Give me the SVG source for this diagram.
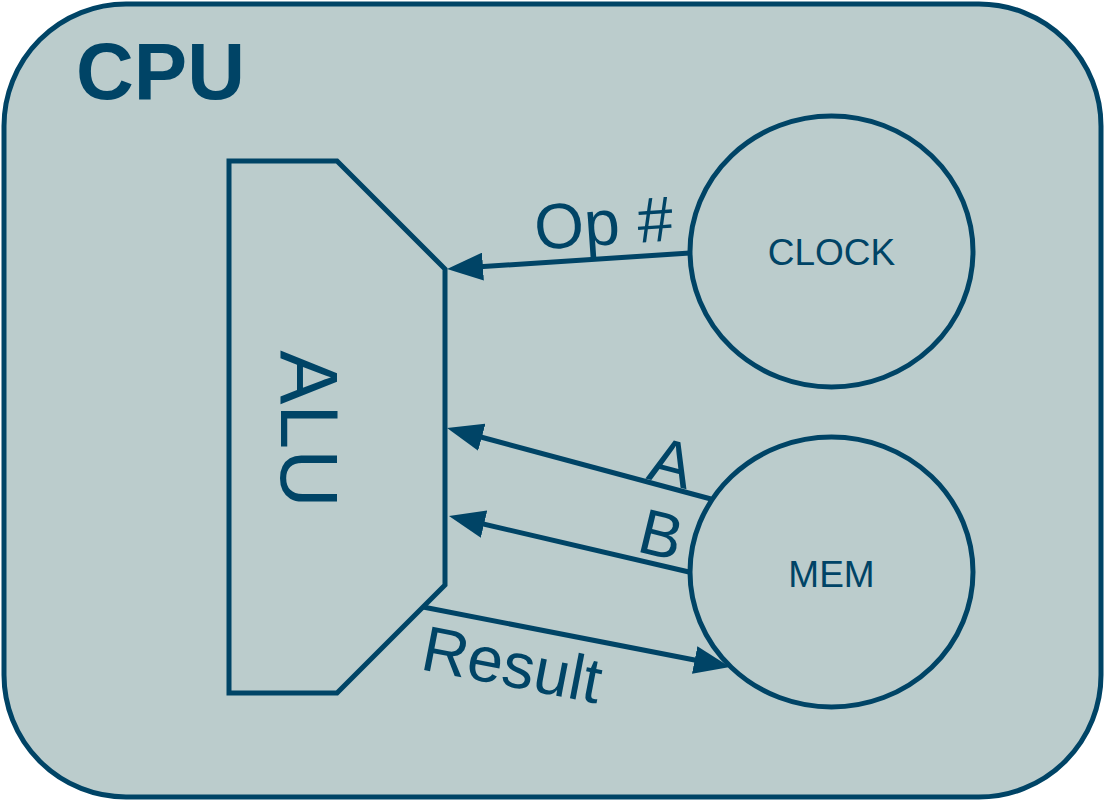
<svg xmlns="http://www.w3.org/2000/svg" width="1105" height="800" viewBox="0 0 1105 800">
  <defs>
    <style>
      .edge { stroke: #004466; stroke-width: 5; fill: none; }
      .shape { stroke: #004466; stroke-width: 5; fill: #bbcccc; stroke-linejoin: miter; }
      .txt { font-family: "Liberation Sans", Arial, sans-serif; fill: #004466; }
      .lbl { font-size: 64px; }
      .node { font-size: 37px; text-anchor: middle; }
    </style>
    <marker id="arrow" viewBox="0 0 36 28" markerUnits="userSpaceOnUse" markerWidth="36" markerHeight="28" refX="26" refY="14" orient="auto">
      <path d="M0,0 L36,14 L0,28 Z" fill="#004466"/>
    </marker>
  </defs>

  <g id="cpu">
    <rect x="4" y="4" width="1097" height="793" rx="122" ry="122" class="shape"/>
    <text x="76" y="99" class="txt" font-size="80" font-weight="bold">CPU</text>
  </g>

  <g id="alu">
    <polygon points="229,161 337,161 445,269 445,585 337,693 229,693" class="shape"/>
    <text transform="translate(281,429) rotate(90)" class="txt" font-size="81" text-anchor="middle">ALU</text>
  </g>

  <g id="clock">
    <ellipse cx="831.5" cy="251.5" rx="141.5" ry="135.5" class="shape"/>
    <text x="831.5" y="265" class="txt node">CLOCK</text>
  </g>

  <g id="mem">
    <ellipse cx="831.5" cy="572" rx="141.5" ry="135" class="shape"/>
    <text x="831.5" y="587" class="txt node">MEM</text>
  </g>

  <g id="connectors">
    <line x1="690" y1="253" x2="457" y2="268.3" class="edge" marker-end="url(#arrow)"/>
    <line x1="711" y1="499" x2="456.7" y2="430.5" class="edge" marker-end="url(#arrow)"/>
    <line x1="689" y1="572" x2="458.7" y2="518.3" class="edge" marker-end="url(#arrow)"/>
    <line x1="423" y1="607" x2="720.2" y2="665" class="edge" marker-end="url(#arrow)"/>
    <text transform="translate(605,245) rotate(-4)" class="txt lbl" text-anchor="middle">Op #</text>
    <text transform="translate(666,484) rotate(14.6)" class="txt lbl" text-anchor="middle">A</text>
    <text transform="translate(656,556) rotate(13.6)" class="txt lbl" text-anchor="middle">B</text>
    <text transform="translate(419,669) rotate(11)" class="txt lbl">Result</text>
  </g>
</svg>
